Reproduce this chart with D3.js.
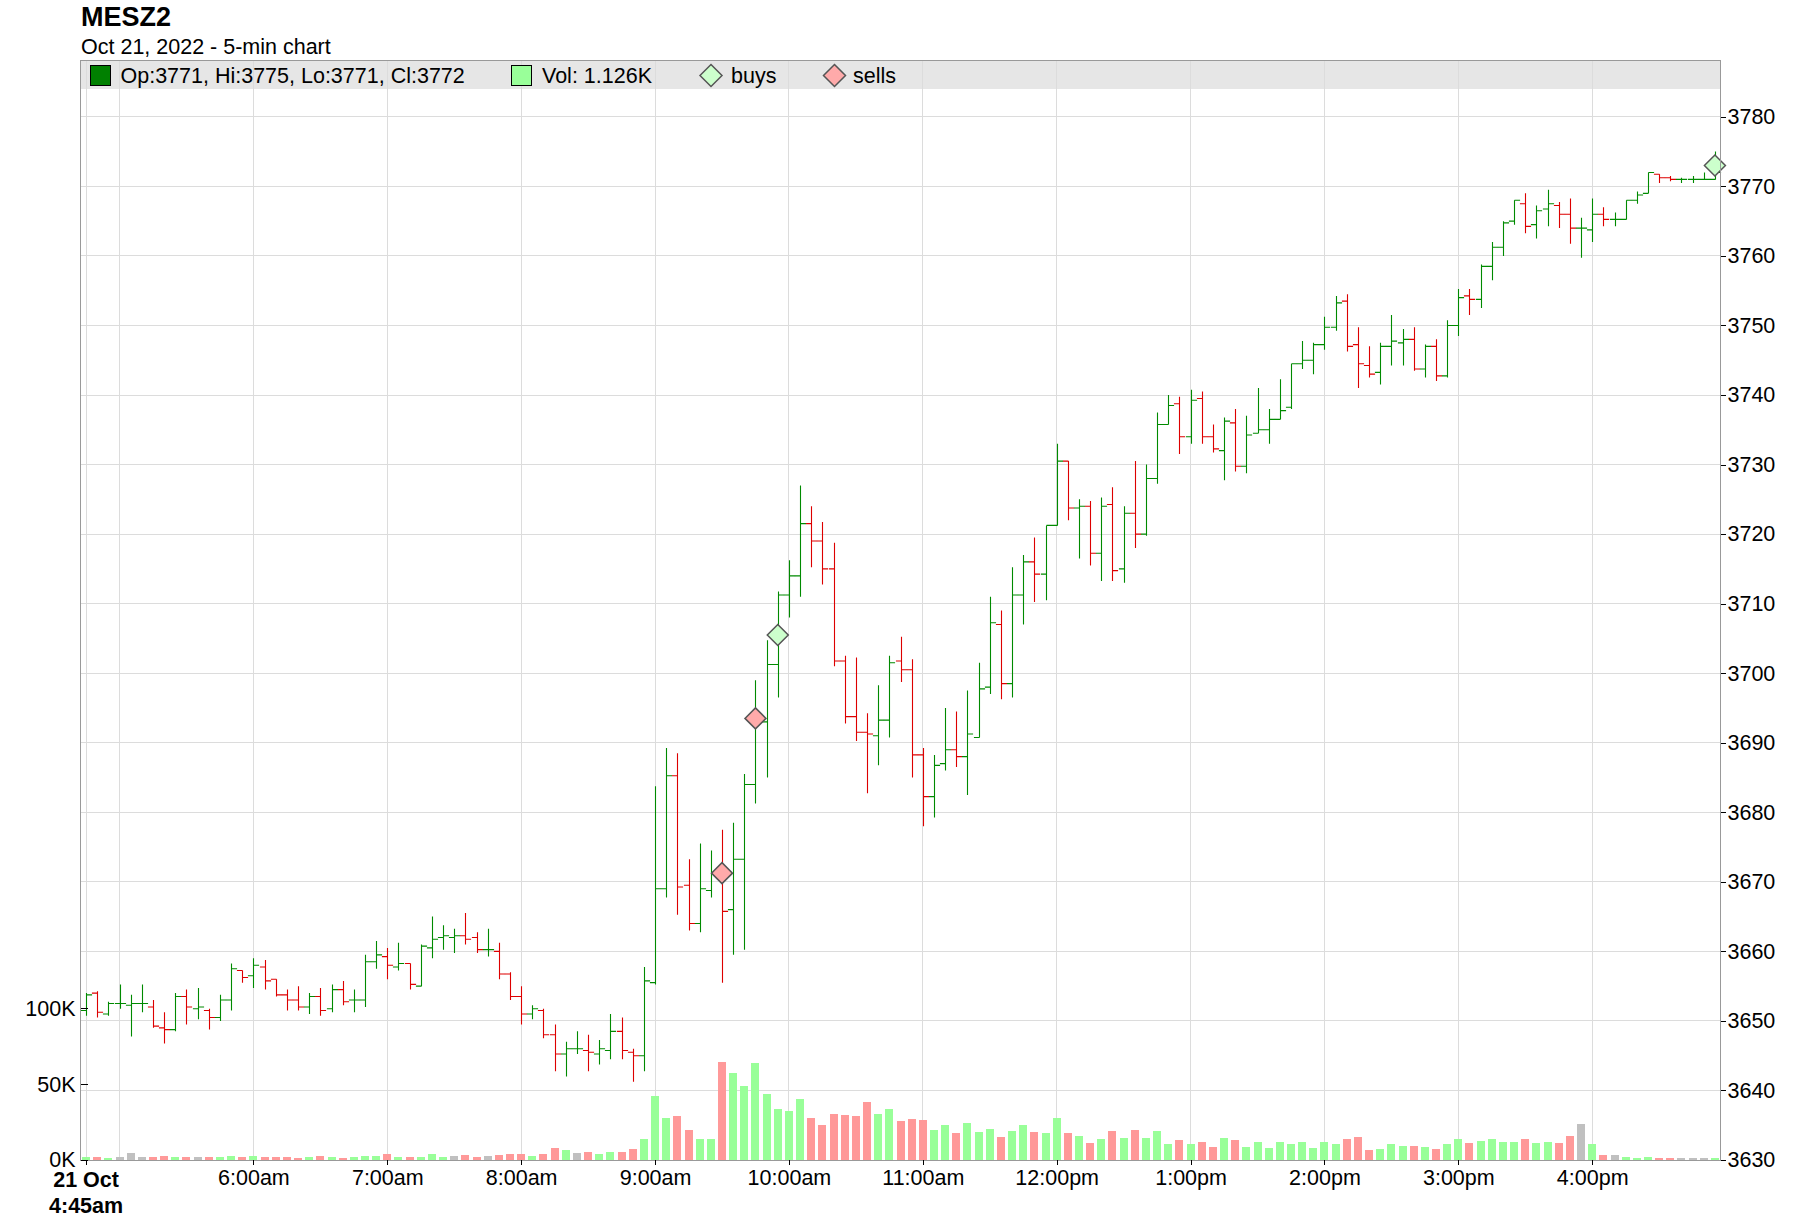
<!DOCTYPE html>
<html>
<head>
<meta charset="utf-8">
<script src="https://cdnjs.cloudflare.com/ajax/libs/d3/7.8.5/d3.min.js"></script>
<style>
  body { margin: 0; background: #fff; }
  svg { display: block; font-family: "Liberation Sans", Arial, sans-serif; }
</style>
</head>
<body>
<div id="chart"></div>
<script>
// frame
const WIDTH = 1800;
const HEIGHT = 1232;
const PLOT = {left: 80.5, right: 1720.5, top: 60.5, bottom: 1160};

// titles
const SYMBOL = "MESZ2";
const SUBTITLE = "Oct 21, 2022 - 5-min chart";

// bars: 5-min from 4:45am
const START = "2022-10-21 04:45";
const BAR_MINUTES = 5;

const opens = [
  3651.5, 3654, 3651, 3652.5, 3652.25, 3652.5, 3652, 3649, 3648.75, 3653.5,
  3651.75, 3651.5, 3650.5, 3653, 3657.25, 3656.5, 3657.75, 3656, 3653.75, 3653,
  3652, 3653.5, 3651.75, 3654.5, 3653, 3653, 3658.5, 3659.25, 3657.75, 3658.25,
  3655, 3660.5, 3662, 3662, 3662.25, 3662, 3660.25, 3660, 3656.75, 3653.5,
  3651, 3651.5, 3648, 3645.25, 3646, 3645.75, 3645.25, 3645.75, 3648.5, 3645.5,
  3645, 3655.5, 3669, 3685.25, 3669.5, 3664, 3668.75, 3671.25, 3666, 3673.25,
  3684, 3693, 3701.25, 3711.25, 3714, 3721.5, 3719, 3715, 3701.75, 3693.75,
  3691.5, 3691, 3693.25, 3701.75, 3700.5, 3688.25, 3682.25, 3687, 3689, 3688,
  3690.75, 3698, 3707, 3698.5, 3711.25, 3716, 3714.25, 3721.25, 3730.5, 3723.75,
  3724, 3717.25, 3724.25, 3715, 3723, 3720, 3728, 3735.75, 3738.75, 3734,
  3739.5, 3734, 3732, 3736, 3729.75, 3734.5, 3735, 3736.5, 3738.25, 3744.5,
  3745, 3747.25, 3749.75, 3753.5, 3747.25, 3744.25, 3743.25, 3747, 3747.5, 3748,
  3743.75, 3747, 3742.75, 3750, 3754.25, 3753.75, 3758.5, 3761.25, 3765, 3767.5,
  3764.5, 3766.75, 3767.25, 3766, 3764, 3763.75, 3766, 3765.25, 3765.25, 3768,
  3769, 3771.75, 3771.25, 3771, 3771, 3771, 3771
];
const highs = [
  3654, 3654.25, 3652.75, 3655.25, 3653.75, 3655.25, 3653, 3651.25, 3654, 3654.5,
  3654.75, 3651.75, 3653.75, 3658.25, 3657.25, 3659, 3658.75, 3656, 3654.5, 3655,
  3654, 3654.75, 3655.25, 3655.75, 3654.5, 3659.5, 3661.5, 3660.5, 3661.25, 3658.25,
  3661, 3665, 3663.75, 3663.25, 3665.5, 3662.75, 3663.25, 3661.25, 3657, 3655,
  3652.25, 3651.75, 3649.5, 3647, 3648.5, 3648, 3647.25, 3651, 3650.5, 3646,
  3657.75, 3683.75, 3689.25, 3688.5, 3673.25, 3675.5, 3674.5, 3677.5, 3678.5, 3685.5,
  3699, 3704.75, 3711.75, 3716.25, 3727, 3724, 3721.75, 3718.75, 3702.5, 3702.25,
  3694.25, 3698.25, 3702.5, 3705.25, 3702, 3689.25, 3688.25, 3695, 3694.5, 3697.5,
  3701.5, 3711, 3709, 3715.25, 3717, 3719.5, 3721.25, 3733, 3730.5, 3725,
  3724.75, 3725.25, 3726.75, 3724, 3730.5, 3730, 3737.5, 3740, 3739.75, 3740.75,
  3740.5, 3735.75, 3736.75, 3738, 3737, 3741, 3738, 3742.25, 3744.5, 3747.75,
  3747.5, 3751.25, 3754.25, 3754.5, 3749.75, 3747, 3747.5, 3751.5, 3749.5, 3749.75,
  3747.25, 3748, 3750.75, 3755.25, 3755.25, 3758.75, 3762, 3765, 3768, 3769,
  3767.25, 3769.5, 3767.75, 3768.25, 3765.5, 3768.25, 3767, 3766.25, 3768, 3769.25,
  3772, 3771.75, 3771.5, 3771.25, 3771.5, 3772, 3775
];
const lows = [
  3650.75, 3650.5, 3650.75, 3651.75, 3647.75, 3651.25, 3649, 3646.75, 3648.5, 3649.5,
  3650.25, 3648.75, 3650, 3651.5, 3655.5, 3654.75, 3654.5, 3653.5, 3651.5, 3651.5,
  3651, 3650.75, 3651.25, 3652.25, 3651.25, 3652, 3657.5, 3656, 3657.25, 3654.5,
  3655, 3659, 3660.25, 3659.75, 3661, 3659.75, 3659.25, 3656, 3653, 3649.5,
  3650.25, 3647.5, 3642.75, 3642, 3645.25, 3642.75, 3643.75, 3644.5, 3644.5, 3641.25,
  3642.75, 3655.25, 3667.75, 3665.25, 3663, 3662.75, 3667.75, 3655.5, 3659.5, 3660.25,
  3681.25, 3685, 3696.5, 3708, 3711, 3715.25, 3712.75, 3701, 3692.75, 3690.25,
  3682.75, 3686.75, 3690.75, 3698.75, 3685, 3678, 3679.25, 3686, 3686.5, 3682.5,
  3690.75, 3697, 3696.25, 3696.5, 3707, 3710.25, 3710.5, 3721.25, 3722, 3716.5,
  3715.5, 3713.25, 3713.25, 3713, 3718, 3719.75, 3727.25, 3735.75, 3731.5, 3733,
  3733, 3731.75, 3727.75, 3729, 3728.75, 3734.5, 3733, 3736.5, 3738, 3743.75,
  3743, 3746.5, 3749.25, 3746.25, 3741, 3742.5, 3741.5, 3744.25, 3744.25, 3743.5,
  3742.5, 3742, 3742.5, 3748.5, 3751.5, 3752.5, 3756.5, 3760, 3764.5, 3763.25,
  3762.5, 3764.25, 3764, 3761.75, 3759.75, 3762, 3764.25, 3764.25, 3765.25, 3767.5,
  3769, 3770.5, 3770.75, 3770.5, 3770.5, 3771, 3771
];
const closes = [
  3653.75, 3651.25, 3652.5, 3652.5, 3652.5, 3652.5, 3649.25, 3648.75, 3653.5, 3652,
  3652, 3650.5, 3653, 3657.5, 3656.25, 3658, 3655.75, 3653.75, 3653, 3652,
  3653.5, 3651.5, 3654.5, 3652.75, 3653, 3658.5, 3659.5, 3658, 3658.25, 3655.25,
  3660.75, 3661.75, 3662.25, 3662.25, 3661.75, 3660.25, 3660.25, 3656.75, 3653.5, 3651,
  3651.75, 3648, 3645.25, 3646, 3646, 3645.5, 3646, 3648.5, 3645.75, 3645,
  3655.75, 3669, 3685.25, 3669.25, 3664, 3669, 3671.25, 3665.75, 3673.25, 3684,
  3693, 3701.25, 3711.25, 3714, 3721.5, 3719, 3715, 3701.75, 3693.75, 3691.5,
  3691.25, 3693.25, 3701.5, 3700.5, 3688.25, 3682.25, 3686.75, 3689, 3688, 3691.25,
  3697.75, 3707.25, 3698.5, 3711.25, 3716, 3714.25, 3721.25, 3730.5, 3723.75, 3724,
  3717.25, 3724, 3714.75, 3723, 3720, 3728, 3735.75, 3738.5, 3734, 3739.25,
  3734, 3732.25, 3736.25, 3729.75, 3734.25, 3735, 3736.5, 3737.75, 3744.5, 3745,
  3747.25, 3749.75, 3753.25, 3747, 3744.5, 3743, 3747, 3747.75, 3748, 3743.75,
  3747, 3742.75, 3750, 3754, 3753.75, 3758.5, 3761.25, 3764.75, 3768, 3764.25,
  3766.5, 3767.5, 3766, 3764, 3764, 3766, 3765.25, 3765.25, 3768, 3768.75,
  3772, 3771.25, 3771, 3771, 3771, 3771, 3772
];
// volume in thousands
const volumes = [
  1.8, 1.8, 1, 1.8, 4.4, 1.8, 1.8, 2.4, 1.8, 1.8,
  1.8, 1.8, 1.8, 2.4, 1.8, 2.4, 1.8, 1.8, 1.8, 1,
  1.8, 2.4, 1.8, 1, 1.8, 2.4, 2.4, 3.7, 1.8, 1.8,
  1.8, 3.7, 1.8, 2.4, 3, 1.8, 2.4, 3, 3.7, 3.7,
  2.4, 3.7, 7.7, 6.4, 4.4, 5, 3.7, 5, 5, 7,
  13.6, 42, 27.4, 28.7, 19.5, 13.6, 13.6, 64.3, 57, 48.5,
  63.6, 43.2, 33.3, 32, 40, 28, 22.8, 30, 29.4, 28.7,
  38, 30, 33.3, 25.4, 26.8, 26.2, 19.6, 22.9, 17.6, 24.2,
  18.2, 20.2, 15, 18.9, 22.9, 18.2, 17.6, 27.5, 17.6, 15.6,
  11, 13.6, 18.9, 14.3, 19.6, 14.3, 18.9, 10.3, 13, 10.3,
  11.6, 8.4, 14.3, 13, 8.4, 11.6, 7.7, 11.6, 10.3, 11.6,
  7.7, 11.6, 10.3, 13.6, 15, 6.4, 7, 10.3, 9, 9,
  8.4, 7, 10.3, 13.6, 11, 12.3, 13.6, 11.6, 11.6, 13.6,
  11, 11.6, 11, 15.6, 23.5, 10.3, 3, 3, 1.8, 1,
  1.8, 1, 1, 1, 1, 1, 1.126
];

// trade markers
const buyTimes = ["09:55", "16:55"];
const buyPrices = [3705.5, 3773];
const sellTimes = ["09:30", "09:45"];
const sellPrices = [3671.25, 3693.5];

// ticks
const priceTicks = [3630, 3640, 3650, 3660, 3670, 3680, 3690, 3700, 3710, 3720, 3730, 3740, 3750, 3760, 3770, 3780];
const volTicks = [0, 50, 100];
const hourTicks = ["06:00", "07:00", "08:00", "09:00", "10:00", "11:00", "12:00", "13:00", "14:00", "15:00", "16:00"];
const hourLabels = ["6:00am", "7:00am", "8:00am", "9:00am", "10:00am", "11:00am", "12:00pm", "1:00pm", "2:00pm", "3:00pm", "4:00pm"];
const gridTimes = ["04:45", "05:00"].concat(hourTicks);
const firstLabel = ["21 Oct", "4:45am"];

// colours
const UP = "#008a00", DOWN = "#dd0000";
const VOL_UP = "#99ff99", VOL_DOWN = "#ff9999", VOL_FLAT = "#c0c0c0";
const FONT = 21.5;

const parse = d3.timeParse("%Y-%m-%d %H:%M");
const T0 = parse(START);
const at = (hm) => parse("2022-10-21 " + hm);
const times = closes.map((d, i) => new Date(+T0 + i * BAR_MINUTES * 60000));
const HALF_MS = BAR_MINUTES * 30000;

const svg = d3.select("#chart")
  .append("svg")
    .attr("width", WIDTH)
    .attr("height", HEIGHT);

svg.append("rect").attr("width", WIDTH).attr("height", HEIGHT).attr("fill", "#fff");

// scales
const X_SCALE = d3.scaleTime()
  .domain([new Date(+times[0] - HALF_MS), new Date(+times[times.length - 1] + HALF_MS)])
  .range([PLOT.left, PLOT.right]);
const Y_PRICE = d3.scaleLinear().domain([3630, 3788.1]).range([PLOT.bottom, PLOT.top]);
const Y_VOL = d3.scaleLinear().domain([0, 724.5]).range([PLOT.bottom, PLOT.top]);

const STEP = X_SCALE(times[1]) - X_SCALE(times[0]);
const HALF = STEP / 2;

// titles
svg.append("text").attr("x", 81).attr("y", 26)
  .attr("font-size", 27).attr("font-weight", "bold").text(SYMBOL);
svg.append("text").attr("x", 81).attr("y", 54)
  .attr("font-size", FONT).text(SUBTITLE);

// legend band
svg.append("rect")
  .attr("x", PLOT.left).attr("y", PLOT.top)
  .attr("width", PLOT.right - PLOT.left).attr("height", 28.5)
  .attr("fill", "#e6e6e6");

// grid
const grid = svg.append("g").attr("stroke", "#dcdcdc").attr("stroke-width", 1)
  .attr("shape-rendering", "crispEdges");
grid.selectAll("line.v")
  .data(gridTimes)
  .enter()
  .append("line")
    .attr("x1", (d) => X_SCALE(at(d))).attr("x2", (d) => X_SCALE(at(d)))
    .attr("y1", PLOT.top).attr("y2", PLOT.bottom);
grid.selectAll("line.h")
  .data(priceTicks.slice(1))
  .enter()
  .append("line")
    .attr("x1", PLOT.left).attr("x2", PLOT.right)
    .attr("y1", (d) => Y_PRICE(d)).attr("y2", (d) => Y_PRICE(d));

// volume bars
const volColor = (i) => {
  if (i === 0) return closes[0] >= opens[0] ? VOL_UP : VOL_DOWN;
  if (closes[i] > closes[i - 1]) return VOL_UP;
  if (closes[i] < closes[i - 1]) return VOL_DOWN;
  return VOL_FLAT;
};
svg.append("g").attr("shape-rendering", "crispEdges")
  .selectAll("rect")
  .data(volumes)
  .enter()
  .append("rect")
    .attr("x", (d, i) => X_SCALE(times[i]) - 4)
    .attr("width", 8)
    .attr("y", (d) => Y_VOL(d))
    .attr("height", (d) => PLOT.bottom - Y_VOL(d))
    .attr("fill", (d, i) => volColor(i));

// OHLC bars
svg.append("g").attr("fill", "none").attr("stroke-width", 1.1)
  .selectAll("path")
  .data(closes)
  .enter()
  .append("path")
    .attr("d", (d, i) => {
      const cx = Math.round(X_SCALE(times[i])) + 0.5;
      return "M" + cx + "," + Y_PRICE(highs[i]) + "V" + Y_PRICE(lows[i]) +
        "M" + (cx - HALF) + "," + Y_PRICE(opens[i]) + "H" + cx +
        "M" + cx + "," + Y_PRICE(closes[i]) + "H" + (cx + HALF);
    })
    .attr("stroke", (d, i) => closes[i] >= opens[i] ? UP : DOWN);

// markers
const diamond = (r) => "M0," + (-r) + "L" + r + ",0L0," + r + "L" + (-r) + ",0Z";
const markers = svg.append("g");
markers.selectAll("path.buy")
  .data(buyTimes)
  .enter()
  .append("path")
    .attr("d", diamond(10.5))
    .attr("transform", (d, i) => "translate(" + X_SCALE(at(d)) + "," + Y_PRICE(buyPrices[i]) + ")")
    .attr("fill", "#ccffcc").attr("stroke", "#555").attr("stroke-width", 1.5);
markers.selectAll("path.sell")
  .data(sellTimes)
  .enter()
  .append("path")
    .attr("d", diamond(10.5))
    .attr("transform", (d, i) => "translate(" + X_SCALE(at(d)) + "," + Y_PRICE(sellPrices[i]) + ")")
    .attr("fill", "#ffaaaa").attr("stroke", "#555").attr("stroke-width", 1.5);

// frame
svg.append("rect")
  .attr("x", PLOT.left).attr("y", PLOT.top)
  .attr("width", PLOT.right - PLOT.left).attr("height", PLOT.bottom - PLOT.top)
  .attr("fill", "none").attr("stroke", "#999").attr("stroke-width", 1)
  .attr("shape-rendering", "crispEdges");

// right price axis
const priceAxis = svg.append("g")
  .attr("transform", "translate(" + PLOT.right + ",0)")
  .call(d3.axisRight(Y_PRICE).tickValues(priceTicks).tickSize(5).tickPadding(2).tickFormat(d3.format("d")));
priceAxis.select(".domain").remove();

// left volume axis
const volAxis = svg.append("g")
  .attr("transform", "translate(" + PLOT.left + ",0)")
  .call(d3.axisLeft(Y_VOL).tickValues(volTicks).tickSizeInner(-7).tickSizeOuter(0).tickPadding(5)
    .tickFormat((d) => d + "K"));
volAxis.select(".domain").remove();

// bottom time axis
const timeAxis = svg.append("g")
  .attr("transform", "translate(0," + PLOT.bottom + ")")
  .call(d3.axisBottom(X_SCALE).tickValues(hourTicks.map(at)).tickSize(5).tickPadding(5)
    .tickFormat((d, i) => hourLabels[i]));
timeAxis.select(".domain").remove();

[priceAxis, volAxis, timeAxis].forEach((g) => {
  g.selectAll("text").attr("font-size", FONT).attr("fill", "#000")
    .attr("font-family", "Liberation Sans, Arial, sans-serif");
  g.selectAll("line").attr("stroke", "#000").attr("shape-rendering", "crispEdges");
});

// first bar label
const x0 = X_SCALE(times[0]);
svg.append("line").attr("x1", x0).attr("x2", x0).attr("y1", PLOT.bottom).attr("y2", PLOT.bottom + 5)
  .attr("stroke", "#000").attr("shape-rendering", "crispEdges");
svg.selectAll("text.first")
  .data(firstLabel)
  .enter()
  .append("text")
    .attr("x", x0).attr("y", (d, i) => 1187 + i * 25.5)
    .attr("text-anchor", "middle").attr("font-size", FONT).attr("font-weight", "bold")
    .text((d) => d);

// legend
const last = closes.length - 1;
const legend = svg.append("g").attr("font-size", FONT);
legend.append("rect").attr("x", 90.5).attr("y", 65.5).attr("width", 20).attr("height", 20)
  .attr("fill", "#008000").attr("stroke", "#000");
legend.append("text").attr("x", 120.5).attr("y", 83)
  .text("Op:" + opens[last] + ", Hi:" + highs[last] + ", Lo:" + lows[last] + ", Cl:" + closes[last]);
legend.append("rect").attr("x", 511.5).attr("y", 65.5).attr("width", 20).attr("height", 20)
  .attr("fill", VOL_UP).attr("stroke", "#000");
legend.append("text").attr("x", 542).attr("y", 83)
  .text("Vol: " + d3.format(".3f")(volumes[last]) + "K");
legend.append("path").attr("d", diamond(11)).attr("transform", "translate(711,75.5)")
  .attr("fill", "#ccffcc").attr("stroke", "#555").attr("stroke-width", 1.5);
legend.append("text").attr("x", 731).attr("y", 83).text("buys");
legend.append("path").attr("d", diamond(11)).attr("transform", "translate(834.5,75.5)")
  .attr("fill", "#ffaaaa").attr("stroke", "#555").attr("stroke-width", 1.5);
legend.append("text").attr("x", 853).attr("y", 83).text("sells");
</script>
</body>
</html>
